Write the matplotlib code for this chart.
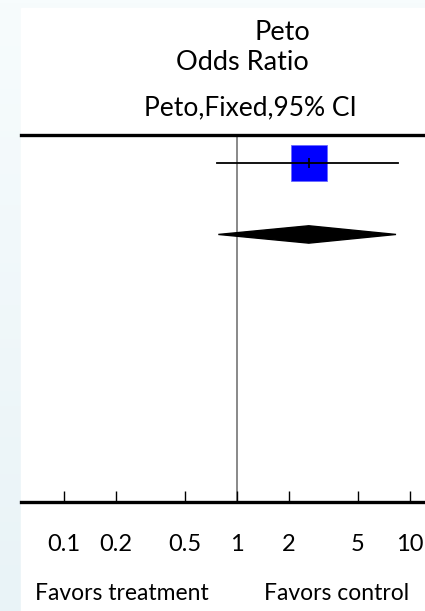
import matplotlib
matplotlib.use('Agg')
import matplotlib.pyplot as plt
import numpy as np
from matplotlib.patches import Polygon, Rectangle

plt.rcParams['font.family'] = ['Lato', 'DejaVu Sans']

# data
study_or = 2.6
study_lo = 0.77
study_hi = 8.5
total_or = 2.6
total_lo = 0.78
total_hi = 8.3
tick_values = [0.1, 0.2, 0.5, 1, 2, 5, 10]
tick_labels = ['0.1', '0.2', '0.5', '1', '2', '5', '10']

W, H = 425, 611
fig = plt.figure(figsize=(W / 100, H / 100), dpi=100)
fig.patch.set_facecolor('white')


def fx(px):
    return px / W


def fy(py):
    return 1 - py / H


# pale frame round the white panel
bg = fig.add_axes([0, 0, 1, 1])
grad = np.linspace(0, 1, 200)[:, None]
bg.imshow(grad, cmap=matplotlib.colors.LinearSegmentedColormap.from_list(
    'bgc', ['#f7fcfd', '#e9f3f7']), aspect='auto', extent=[0, 1, 0, 1])
bg.add_patch(Rectangle((fx(21), 0), 1, fy(8), color='white', zorder=2))
bg.set_xlim(0, 1)
bg.set_ylim(0, 1)
bg.axis('off')

ax = fig.add_axes([fx(21), fy(502), fx(425) - fx(21), fy(135) - fy(502)])
ax.set_facecolor('none')
ax.set_xscale('log')
ax.set_xlim(10 ** ((21 - 237) / 173), 10 ** ((425 - 237) / 173))
ax.set_ylim(13.1, 0)

# line of no effect
ax.axvline(1, color='#808080', lw=1.3, zorder=1)

# study row
y_study = 1
ax.plot([study_lo, study_hi], [y_study, y_study], color='black', lw=1.3, zorder=3)
ax.plot(study_or, y_study, marker='s', markersize=26, color='#0000ff',
        markeredgecolor='#6a6aff', markeredgewidth=0.6, zorder=2)
ax.plot(study_or, y_study, marker='|', markersize=7, color='black', mew=1.2, zorder=4)

# total diamond
y_tot = 3.55
h = 0.31
ax.add_patch(Polygon([[total_lo, y_tot], [total_or, y_tot - h],
                      [total_hi, y_tot], [total_or, y_tot + h]],
                     closed=True, color='black', zorder=3))

for s in ['left', 'right']:
    ax.spines[s].set_visible(False)
ax.spines['top'].set_linewidth(2.4)
ax.spines['bottom'].set_linewidth(2.4)
ax.set_yticks([])
ax.set_xticks(tick_values)
ax.set_xticklabels(tick_labels)
ax.minorticks_off()
ax.tick_params(axis='x', direction='in', length=8, width=1, pad=23,
               labelsize=17, colors='black')

fig.text(fx(282), fy(32), 'Peto', ha='center', va='center', fontsize=19.5)
fig.text(fx(242), fy(63), 'Odds Ratio', ha='center', va='center', fontsize=19.5)
fig.text(fx(250), fy(108), 'Peto,Fixed,95% CI', ha='center', va='center', fontsize=19)
fig.text(fx(122), fy(593), 'Favors treatment', ha='center', va='center', fontsize=16.5)
fig.text(fx(337), fy(593), 'Favors control', ha='center', va='center', fontsize=16.5)

fig.savefig('out.png', dpi=100)
